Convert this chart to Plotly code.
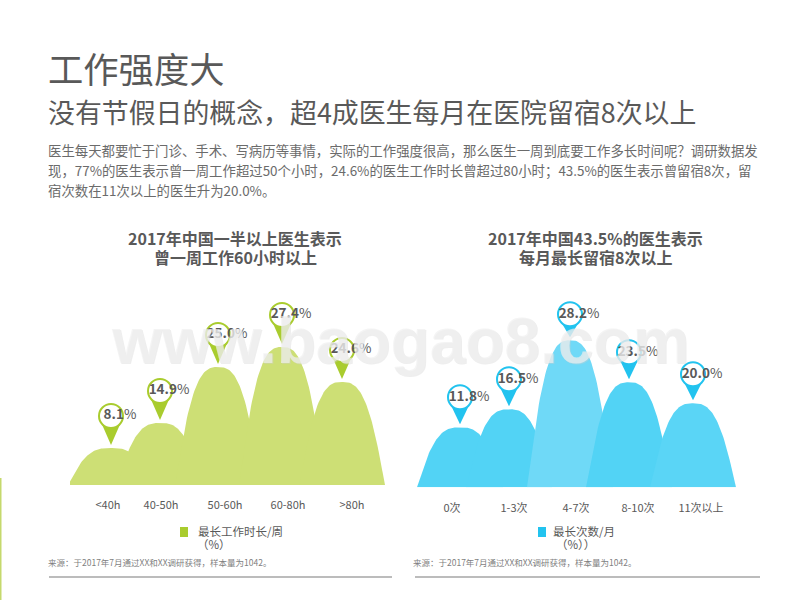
import numpy as np
import plotly.graph_objects as go

# chart data
work_cats=['<40h','40-50h','50-60h','60-80h','>80h']
work_labels=['8.1','14.9','25.0','27.4','24.6']
work_peaks=[7.4,12.4,23.6,27.6,20.6]   # drawn height of each hump
stay_cats=['0次','1-3次','4-7次','8-10次','11次以上']
stay_labels=['11.8','16.5','28.2','23.5','20.0']
stay_peaks=[12.0,15.6,29.4,21.0,16.8]

# layout (x axes run in page pixels, y axes in units of 5 px)
work_peak_x=[111,160,218,282,342]
work_tick_x=[108,161,225,288,352]
work_gaps=[32,32,32,32,32]
stay_peak_x=[460,509,570,629,693]
stay_tick_x=[452,514,576,638,701]
stay_gaps=[30,30,26,30,29]
unit=5
half_width=43

font='Noto Sans CJK SC'
grey='#595959'
green='#a9cc2e'
green_hump='#cddf75'
blue='#22c3ef'
blue_hump='#52d3f5'
blue_light='#6fd9f7'

def hump(px,peak):
    t=np.linspace(-1,1,81)
    return px+t*half_width,peak*(1-np.abs(t)**2.8)**1.1

def pin(px,peak,gap):
    c=peak+gap/unit
    tip=peak+3/unit
    return [px-10.5,px,px+10.5,px-10.5],[c-5/unit,tip,c-5/unit,c-5/unit]

def draw(fig,ax,ay,peak_x,peaks,labels,colors,pincolor,gaps):
    for i in range(len(peaks)):
        x,y=hump(peak_x[i],peaks[i])
        fig.add_trace(go.Scatter(x=x,y=y,mode='lines',fill='tozeroy',fillcolor=colors[i],
                                 line={'width':0,'color':colors[i]},xaxis=ax,yaxis=ay,
                                 showlegend=False,hoverinfo='skip'))
    for i in range(len(peaks)):
        x,y=pin(peak_x[i],peaks[i],gaps[i])
        fig.add_trace(go.Scatter(x=x,y=y,mode='lines',fill='toself',fillcolor=pincolor,
                                 line={'width':0,'color':pincolor},xaxis=ax,yaxis=ay,
                                 showlegend=False,hoverinfo='skip'))
    cy=[p+g/unit for p,g in zip(peaks,gaps)]
    fig.add_trace(go.Scatter(x=peak_x,y=cy,mode='markers',
                             marker={'size':24,'color':'white','line':{'color':pincolor,'width':2}},
                             xaxis=ax,yaxis=ay,showlegend=False,hoverinfo='skip',cliponaxis=False))
    fig.add_trace(go.Scatter(x=[p+9 for p in peak_x],y=cy,mode='text',
                             text=['<b>'+l+'</b>%' for l in labels],
                             textfont={'family':font,'size':13.5,'color':grey},
                             xaxis=ax,yaxis=ay,showlegend=False,hoverinfo='skip',cliponaxis=False))

fig=go.Figure()
draw(fig,'x','y',work_peak_x,work_peaks,work_labels,[green_hump]*5,green,work_gaps)
draw(fig,'x2','y2',stay_peak_x,stay_peaks,stay_labels,
     [blue_hump,blue_hump,blue_light,blue_hump,'#5ad5f6'],blue,stay_gaps)

def text(x,y,s,size,color=grey,anchor='left',bold=False,family=font):
    return dict(x=x/800,y=1-y/600,xref='paper',yref='paper',xanchor=anchor,yanchor='middle',
                text='<b>'+s+'</b>' if bold else s,showarrow=False,align=anchor,
                font={'family':family,'size':size,'color':color})

notes=[text(46,68,'工作强度大',35.3),
       text(46,111,'没有节假日的概念，超4成医生每月在医院留宿8次以上',26.9),
       text(46,150,'医生每天都要忙于门诊、手术、写病历等事情，实际的工作强度很高，那么医生一周到底要工作多长时间呢？调研数据发',13.4,'#6b6b6b'),
       text(46,170,'现，77%的医生表示曾一周工作超过50个小时，24.6%的医生工作时长曾超过80小时；43.5%的医生表示曾留宿8次，留',13.4,'#6b6b6b'),
       text(46,190,'宿次数在11次以上的医生升为20.0%。',13.4,'#6b6b6b'),
       text(235,238,'2017年中国一半以上医生表示',16,anchor='center',bold=True),
       text(235,257,'曾一周工作60小时以上',16,anchor='center',bold=True),
       text(595,238,'2017年中国43.5%的医生表示',16,anchor='center',bold=True),
       text(595,257,'每月最长留宿8次以上',16,anchor='center',bold=True),
       text(196,531,'最长工作时长/周',11.5),
       text(195,544,'（%）',11.5),
       text(551,531,'最长次数/月',11.5),
       text(554,544,'（%））',11.5),
       text(46,562,'来源：于2017年7月通过XX和XX调研获得，样本量为1042。',8.5,'#7f7f7f'),
       text(411,562,'来源：于2017年7月通过XX和XX调研获得，样本量为1042。',8.5,'#7f7f7f'),
       # watermark
       text(401,342,'<b>www.baogao8.com</b>',64,'rgba(205,205,205,0.35)','center',family='Liberation Sans'),
       text(400,341,'<b>www.baogao8.com</b>',64,'rgba(240,240,240,0.7)','center',family='Liberation Sans')]

def rect(x0,y0,x1,y1,color):
    return dict(type='rect',xref='paper',yref='paper',x0=x0/800,x1=x1/800,y0=1-y0/600,y1=1-y1/600,
                fillcolor=color,line={'width':0})

def hline(x0,x1,y):
    return dict(type='line',xref='paper',yref='paper',x0=x0/800,x1=x1/800,y0=1-y/600,y1=1-y/600,
                line={'color':'#a6a6a6','width':1.5})

axis_x={'showgrid':False,'zeroline':False,'showline':False,'ticks':'outside','ticklen':10,
        'tickcolor':'rgba(0,0,0,0)','tickfont':{'family':font,'size':11,'color':grey},
        'tickmode':'array','fixedrange':True}
axis_y={'showgrid':False,'zeroline':False,'showline':False,'showticklabels':False,
        'range':[0,40],'fixedrange':True}

fig.update_layout(width=800,height=600,margin={'l':0,'r':0,'t':0,'b':0},
                  paper_bgcolor='white',plot_bgcolor='rgba(0,0,0,0)',showlegend=False,
                  xaxis=dict(axis_x,domain=[70/800,385/800],range=[70,385],
                             tickvals=work_tick_x,ticktext=work_cats),
                  yaxis=dict(axis_y,domain=[115/600,315/600]),
                  xaxis2=dict(axis_x,domain=[417/800,736/800],range=[417,736],
                              tickvals=stay_tick_x,ticktext=stay_cats,anchor='y2'),
                  yaxis2=dict(axis_y,domain=[112.7/600,312.7/600],anchor='x2'),
                  annotations=notes,
                  shapes=[rect(180,527,188,537,green),rect(538,527,546,537,blue),
                          hline(49,392,577),hline(415,760,577),
                          rect(0,478,1.5,600,'#c5d96d')])
fig.write_html('out.html',config={'displayModeBar':False},post_script="document.body.style.margin='0'")
